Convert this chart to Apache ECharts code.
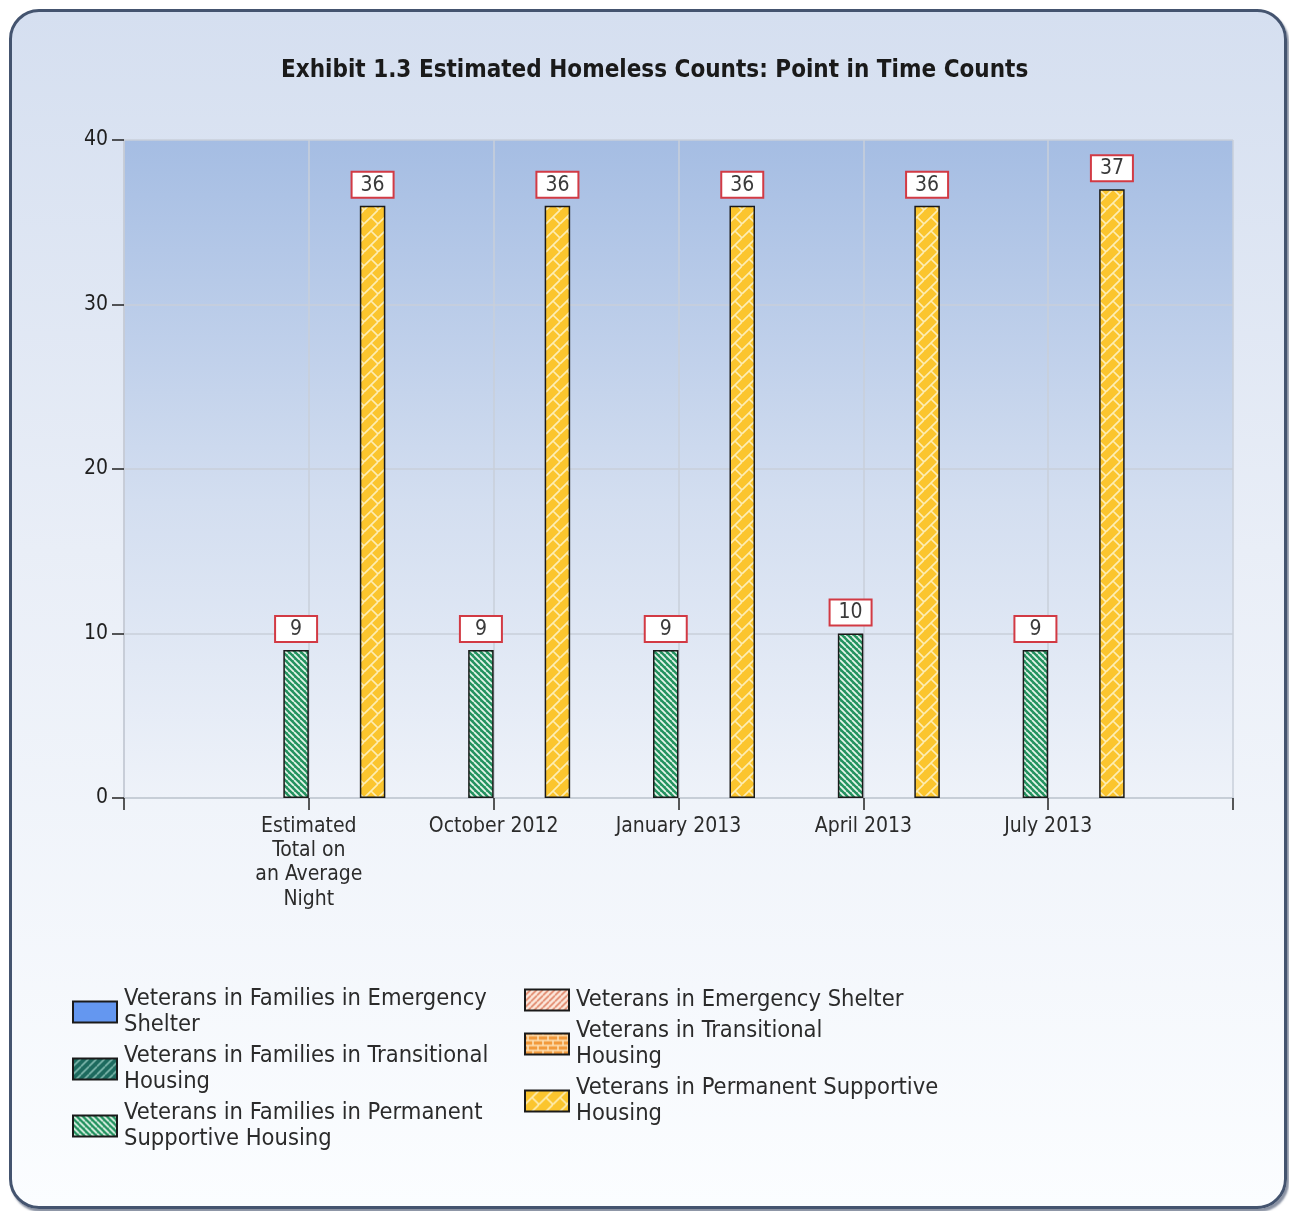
<!DOCTYPE html>
<html>
<head>
<meta charset="utf-8">
<title>Exhibit 1.3 Estimated Homeless Counts</title>
<script src="https://cdn.jsdelivr.net/npm/echarts@6/dist/echarts.min.js"></script>
<style>
  html, body { margin: 0; padding: 0; background: #ffffff; }
  #panel {
    position: absolute; left: 9px; top: 9px; width: 1272px; height: 1194px;
    border: 3px solid #44546f; border-radius: 30px;
    box-shadow: 2px 3px 2px rgba(40, 55, 85, 0.55);
    background: linear-gradient(to bottom, #d5dff0 0%, #e9eef7 45%, #fbfdff 100%);
  }
  #main { position: absolute; left: 0; top: 0; width: 1289px; height: 1211px; }
</style>
</head>
<body>
<div id="panel"></div>
<div id="main"></div>
<script>
// categories and values
const categories = ['Estimated\nTotal on\nan Average\nNight', 'October 2012', 'January 2013', 'April 2013', 'July 2013'];
const famEmergency = [null, null, null, null, null];
const famTransitional = [null, null, null, null, null];
const famPermanent = [9, 9, 9, 10, 9];
const vetEmergency = [null, null, null, null, null];
const vetTransitional = [null, null, null, null, null];
const vetPermanent = [36, 36, 36, 36, 37];
const seriesNames = [
  'Veterans in Families in Emergency Shelter',
  'Veterans in Families in Transitional Housing',
  'Veterans in Families in Permanent Supportive Housing',
  'Veterans in Emergency Shelter',
  'Veterans in Transitional Housing',
  'Veterans in Permanent Supportive Housing'
];
const legendLabels = [
  'Veterans in Families in Emergency\nShelter',
  'Veterans in Families in Transitional\nHousing',
  'Veterans in Families in Permanent\nSupportive Housing',
  'Veterans in Emergency Shelter',
  'Veterans in Transitional\nHousing',
  'Veterans in Permanent Supportive\nHousing'
];
const yTicks = { min: 0, max: 40, interval: 10 };

const FONT = '"DejaVu Sans Condensed", "DejaVu Sans", sans-serif';

// hatch fills drawn on small canvases
function pattern(size, bg, draw) {
  const c = document.createElement('canvas');
  c.width = size; c.height = size;
  const ctx = c.getContext('2d');
  ctx.fillStyle = bg;
  ctx.fillRect(0, 0, size, size);
  draw(ctx, size);
  return { image: c, repeat: 'repeat' };
}
function diag(ctx, s, color, w, back) {
  ctx.strokeStyle = color; ctx.lineWidth = w;
  ctx.beginPath();
  for (let k = -s; k <= s; k += s) {
    if (back) { ctx.moveTo(k, 0); ctx.lineTo(k + s, s); }
    else { ctx.moveTo(k, s); ctx.lineTo(k + s, 0); }
  }
  ctx.stroke();
}

const fills = [
  '#6497f0',
  pattern(8, '#1d6a5e', (ctx, s) => diag(ctx, s, '#7fb8ad', 1.6, false)),
  pattern(6, '#23925f', (ctx, s) => diag(ctx, s, '#e4f4ea', 1.8, true)),
  pattern(6, '#fbe6da', (ctx, s) => diag(ctx, s, '#e0866a', 1.6, false)),
  pattern(10, '#f29a3c', (ctx, s) => {
    ctx.strokeStyle = '#fde2b8'; ctx.lineWidth = 1.5;
    ctx.beginPath();
    ctx.moveTo(0, 2); ctx.lineTo(s, 2);
    ctx.moveTo(0, 7); ctx.lineTo(s, 7);
    ctx.moveTo(3, 2); ctx.lineTo(3, 7);
    ctx.moveTo(8, 7); ctx.lineTo(8, 10);
    ctx.moveTo(8, 0); ctx.lineTo(8, 2);
    ctx.stroke();
  }),
  pattern(14, '#fbc52e', (ctx, s) => {
    ctx.strokeStyle = '#fdedb4'; ctx.lineWidth = 1.6;
    ctx.beginPath();
    for (let k = -s; k <= s; k += s) { ctx.moveTo(k, s); ctx.lineTo(k + s, 0); }
    ctx.moveTo(7, 7); ctx.lineTo(14, 14);
    ctx.moveTo(-7, -7); ctx.lineTo(0, 0);
    ctx.stroke();
  })
];

const valueSets = [famEmergency, famTransitional, famPermanent, vetEmergency, vetTransitional, vetPermanent];
const padded = (arr) => [null, ...arr, null];

const chart = echarts.init(document.getElementById('main'), null, { renderer: 'canvas' });

const series = seriesNames.map((name, i) => ({
  name,
  type: 'bar',
  data: padded(valueSets[i]),
  barWidth: 25.5,
  barGap: '0%',
  itemStyle: { color: fills[i], borderColor: '#1a1a1a', borderWidth: 1.5 },
  label: {
    show: true,
    position: 'top',
    distance: 9,
    fontFamily: '"Liberation Sans Narrow", "DejaVu Sans Condensed", sans-serif',
    fontSize: 21,
    color: '#3a3a3a',
    backgroundColor: '#ffffff',
    borderColor: '#d23a44',
    borderWidth: 2,
    padding: [2, 8, 1, 8],
    width: 24,
    align: 'center'
  }
}));

const legendBase = {
  orient: 'vertical',
  padding: 0,
  itemGap: 5,
  itemWidth: 44,
  itemHeight: 21,
  selectedMode: false,
  icon: 'rect',
  itemStyle: { borderColor: '#1a1a1a', borderWidth: 2 },
  formatter: (name) => legendLabels[seriesNames.indexOf(name)],
  textStyle: { fontFamily: FONT, fontSize: 23.5, lineHeight: 26, color: '#2b2b2b', padding: [0, 0, 0, 2] }
};

chart.setOption({
  animation: false,
  title: {
    text: 'Exhibit 1.3 Estimated Homeless Counts: Point in Time Counts',
    left: 276,
    top: 54,
    textStyle: { fontFamily: FONT, fontSize: 24, fontWeight: 'bold', color: '#1a1a1a' }
  },
  legend: [
    Object.assign({}, legendBase, { left: 72, top: 986, data: seriesNames.slice(0, 3) }),
    Object.assign({}, legendBase, { left: 524, top: 987, data: seriesNames.slice(3) })
  ],
  grid: {
    left: 124, right: 56, top: 140, bottom: 413,
    show: true,
    borderWidth: 0,
    backgroundColor: {
      type: 'linear', x: 0, y: 0, x2: 0, y2: 1,
      colorStops: [
        { offset: 0, color: '#a5bde3' },
        { offset: 0.55, color: '#d3def0' },
        { offset: 1, color: '#eef2f9' }
      ]
    }
  },
  xAxis: {
    type: 'category',
    data: ['', ...categories, ''],
    boundaryGap: false,
    axisLine: { lineStyle: { color: '#c4cad4', width: 1.5 } },
    axisTick: { show: true, length: 12, lineStyle: { color: '#222222', width: 1.5 } },
    axisLabel: {
      interval: 0, margin: 16,
      fontFamily: FONT, fontSize: 21, lineHeight: 24.3, color: '#2b2b2b'
    },
    splitLine: { show: true, lineStyle: { color: '#c8cfda', width: 1.5 } }
  },
  yAxis: {
    type: 'value',
    min: yTicks.min, max: yTicks.max, interval: yTicks.interval,
    axisLine: { show: true, lineStyle: { color: '#c4cad4', width: 1.5 } },
    axisTick: { show: true, length: 12, lineStyle: { color: '#222222', width: 1.5 } },
    axisLabel: { margin: 16, fontFamily: FONT, fontSize: 21, color: '#1f1f1f' },
    splitLine: { show: true, lineStyle: { color: '#c8cfda', width: 1.5 } }
  },
  series
});
</script>
</body>
</html>
